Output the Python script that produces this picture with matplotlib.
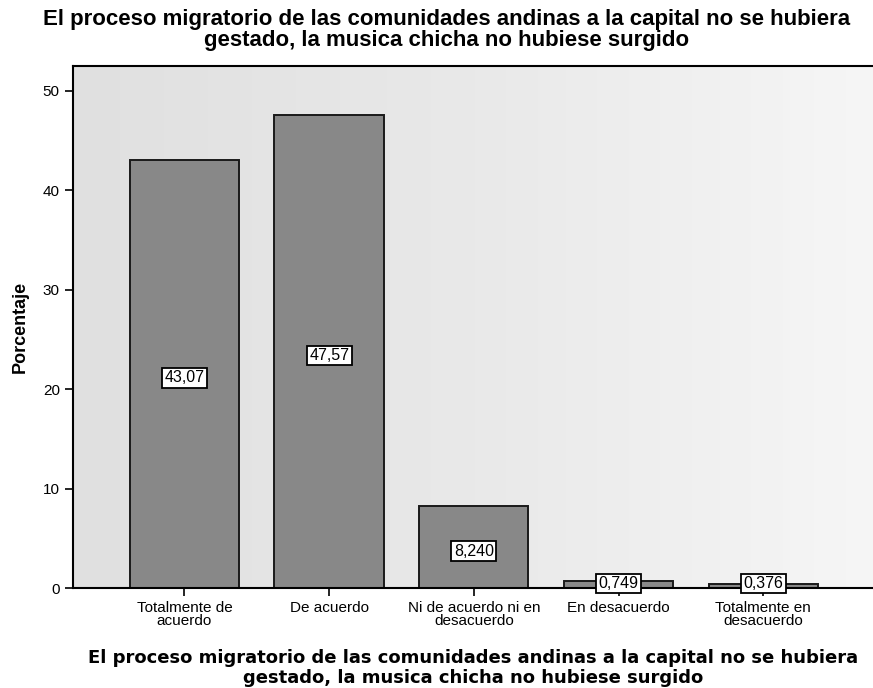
import matplotlib
matplotlib.use("Agg")
import matplotlib.pyplot as plt
import numpy as np
from matplotlib.colors import LinearSegmentedColormap

categories = ["Totalmente de\nacuerdo", "De acuerdo", "Ni de acuerdo ni en\ndesacuerdo",
              "En desacuerdo", "Totalmente en\ndesacuerdo"]
values = [43.07, 47.57, 8.240, 0.749, 0.376]
value_labels = ["43,07", "47,57", "8,240", "0,749", "0,376"]
yticks = [0, 10, 20, 30, 40, 50]
title = "El proceso migratorio de las comunidades andinas a la capital no se hubiera\ngestado, la musica chicha no hubiese surgido"

plt.rcParams['font.family'] = ['Liberation Sans', 'DejaVu Sans']

fig = plt.figure(figsize=(8.73, 6.88), dpi=100)
ax = fig.add_axes([0.0836, 0.1453, 0.92, 0.759])

# background gradient (light gray on the left fading to near white on the right)
grad = np.linspace(0, 1, 256).reshape(1, -1)
cmap = LinearSegmentedColormap.from_list("bg", ["#e0e0e0", "#e9e9e9", "#f6f6f6"])
ax.imshow(grad, extent=[-0.77, 4.78, 0, 52.5], aspect='auto', cmap=cmap, zorder=0)

x = np.arange(len(categories))
ax.bar(x, values, width=0.755, color="#888888", edgecolor="#1a1a1a", linewidth=1.4, zorder=2)

for xi, v, lab in zip(x, values, value_labels):
    ax.text(xi, v / 2 - 0.4 if v > 2 else 0.45, lab, ha='center', va='center', fontsize=11.5, zorder=4,
            bbox=dict(boxstyle='square,pad=0.15', facecolor='white', edgecolor='black', linewidth=1.3))

ax.set_xlim(-0.77, 4.78)
ax.set_ylim(0, 52.5)
ax.set_yticks(yticks)
ax.set_yticklabels([str(t) for t in yticks], fontsize=11)
ax.set_xticks(x)
ax.set_xticklabels(categories, fontsize=11, linespacing=0.95)
ax.tick_params(axis='both', length=6, width=1.2, color='black')
ax.tick_params(axis='x', pad=3)

for side in ['left', 'bottom', 'top']:
    ax.spines[side].set_linewidth(1.5)
ax.spines['right'].set_visible(False)

ax.set_ylabel("Porcentaje", fontsize=13, fontweight='bold', labelpad=10)
fig.text(473 / 873, 1 - 668 / 688, title, fontsize=13.0, fontweight='bold', ha='center', va='center',
         linespacing=1.1, family=['DejaVu Sans'])
fig.text(447 / 873, 1 - 30 / 688, title, fontsize=16.0, fontweight='bold', ha='center', va='center',
         linespacing=1.05)

fig.savefig("out.png", dpi=100)
